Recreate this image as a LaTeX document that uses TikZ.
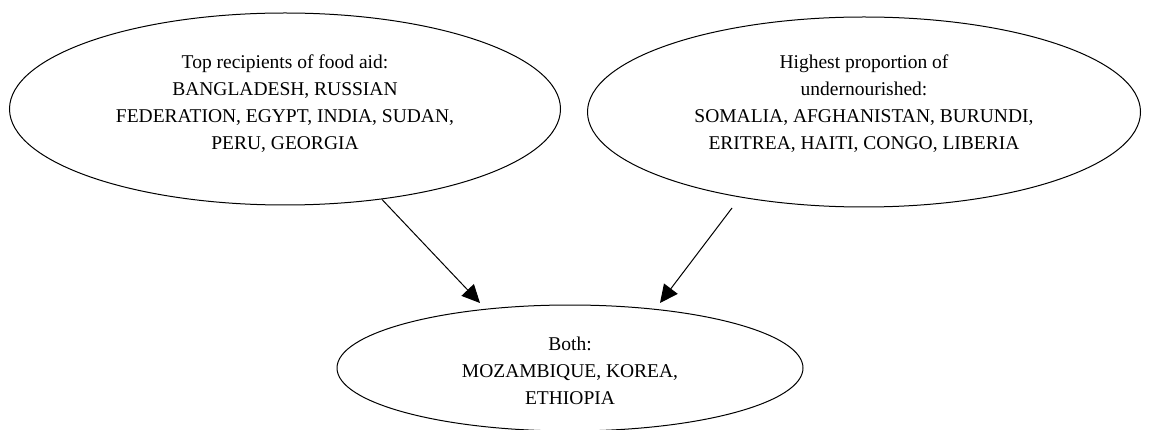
\documentclass[tikz,border=0pt]{standalone}
\usepackage{fontspec}
\setmainfont{Liberation Serif}
\usetikzlibrary{shapes.geometric,arrows.meta}

\begin{document}
\begin{tikzpicture}
[every node/.style={inner sep=0pt, align=center, font=\fontsize{19.5}{27}\selectfont},
 set/.style={ellipse, draw=black, line width=1pt},
 link/.style={line width=1pt, -{Triangle[length=18pt,width=17pt]}, color=black}]
\useasboundingbox (0pt,0pt) rectangle (1153pt,-430pt);
\node (aid) [set, minimum width=551pt, minimum height=192pt] at (285pt, -109pt) {};
\node (hunger) [set, minimum width=553pt, minimum height=190pt] at (864pt, -112pt) {};
\node (both) [set, minimum width=466pt, minimum height=126pt] at (570pt, -368pt) {};
\node (aidtext) at (285pt, -104pt) {Top recipients of food aid:\\BANGLADESH, RUSSIAN\\FEDERATION, EGYPT, INDIA, SUDAN,\\PERU, GEORGIA};
\node (hungertext) at (864pt, -103.5pt) {Highest proportion of\\undernourished:\\SOMALIA, AFGHANISTAN, BURUNDI,\\ERITREA, HAITI, CONGO, LIBERIA};
\node (bothtext) at (570pt, -371pt) {Both:\\MOZAMBIQUE, KOREA,\\ETHIOPIA};
\coordinate (hungerfoot) at (732pt, -208pt);
\coordinate (bothleft) at (480pt, -303pt);
\coordinate (bothright) at (660pt, -303pt);
\draw [link] (aid.-43) -- (bothleft);
\draw [link] (hungerfoot) -- (bothright);
\end{tikzpicture}
\end{document}
